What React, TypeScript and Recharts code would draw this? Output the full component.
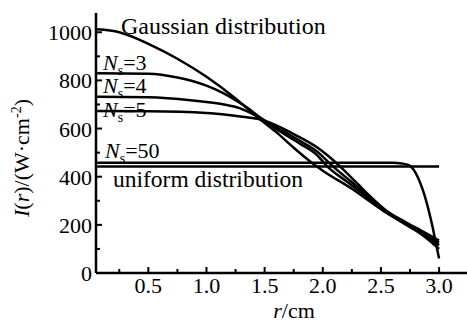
import React from 'react';
import { LineChart, Line, XAxis, YAxis } from 'recharts';

const gaussR = [0.06, 0.25, 0.5, 0.75, 1.0, 1.25, 1.43, 1.6, 1.75, 1.9, 2.0, 2.25, 2.5, 2.7, 2.85, 3.0];
const gaussI = [1012, 1000, 952, 890, 815, 725, 650, 585, 520, 460, 425, 350, 265, 205, 160, 100];

const ns3R = [0.06, 0.5, 0.75, 1.0, 1.14, 1.25, 1.37, 1.45, 1.6, 1.8, 1.95, 2.04, 2.2, 2.4, 2.55, 2.7, 2.85, 3.0];
const ns3I = [830, 828, 812, 778, 748, 718, 680, 650, 598, 538, 490, 442, 382, 308, 250, 208, 165, 115];

const ns4R = [0.06, 0.5, 0.86, 1.0, 1.15, 1.29, 1.45, 1.6, 1.8, 1.95, 2.09, 2.25, 2.4, 2.55, 2.7, 2.85, 3.0];
const ns4I = [732, 730, 718, 710, 700, 684, 647, 606, 550, 505, 442, 377, 315, 254, 211, 168, 125];

const ns5R = [0.06, 0.5, 1.0, 1.29, 1.5, 1.75, 1.95, 2.05, 2.15, 2.3, 2.4, 2.55, 2.7, 2.85, 3.0];
const ns5I = [673, 672, 665, 650, 633, 577, 522, 485, 442, 370, 322, 258, 215, 175, 135];

const ns50R = [0.06, 2.6, 2.68, 2.74, 2.78, 2.82, 2.86, 2.9, 2.94, 2.97, 3.0];
const ns50I = [458, 458, 455, 448, 430, 395, 345, 280, 200, 130, 60];

const uniR = [0.06, 3.0];
const uniI = [442, 442];

const xMajor = [0.5, 1.0, 1.5, 2.0, 2.5, 3.0];
const xMinor = [0.25, 0.75, 1.25, 1.75, 2.25, 2.75];
const yMajor = [0, 200, 400, 600, 800, 1000];
const yMinor = [100, 300, 500, 700, 900];

const toData = (rs: number[], vs: number[]) => rs.map((r, i) => ({ r, v: vs[i] }));

const series = [
  toData(gaussR, gaussI),
  toData(ns3R, ns3I),
  toData(ns4R, ns4I),
  toData(ns5R, ns5I),
  toData(ns50R, ns50I),
  toData(uniR, uniI),
];

const FONT = "'Liberation Serif', 'Times New Roman', monospace";
const W = 467;
const H = 322;
const FS = 22;

const XTick = (props: any) => {
  const { x, y, payload } = props;
  const v = payload.value;
  const major = xMajor.some((m) => Math.abs(m - v) < 1e-6);
  return (
    <g>
      <line x1={x} y1={y} x2={x} y2={y - (major ? 6 : 4)} stroke="#000" strokeWidth={2} />
      {major && (
        <text x={x} y={y + 20} textAnchor="middle" style={{ fontFamily: FONT, fontSize: FS }} fill="#000">
          {v.toFixed(1)}
        </text>
      )}
    </g>
  );
};

const YTick = (props: any) => {
  const { x, y, payload } = props;
  const v = payload.value;
  const major = yMajor.includes(v);
  return (
    <g>
      <line x1={x} y1={y} x2={x + (major ? 6 : 4)} y2={y} stroke="#000" strokeWidth={2} />
      {major && (
        <text x={x - 4} y={y + 8} textAnchor="end" style={{ fontFamily: FONT, fontSize: FS }} fill="#000">
          {v}
        </text>
      )}
    </g>
  );
};

const Ns = ({ x, y, n }: { x: number; y: number; n: string }) => (
  <text x={x} y={y} style={{ fontFamily: FONT, fontSize: FS }} fill="#000">
    <tspan fontStyle="italic">N</tspan>
    <tspan style={{ fontSize: 14 }} dy={5}>s</tspan>
    <tspan dy={-5}>={n}</tspan>
  </text>
);

export default function App() {
  return (
    <div style={{ position: 'absolute', left: 0, top: 0, width: W, height: H, background: '#fff' }}>
      <LineChart width={W} height={H} margin={{ top: 13, right: 0, bottom: 0, left: 0 }}>
        <XAxis
          type="number"
          dataKey="r"
          domain={[0.05, 3.24]}
          allowDataOverflow
          ticks={[...xMinor, ...xMajor].sort((a, b) => a - b)}
          interval={0}
          tickSize={0}
          tickMargin={0}
          tickLine={false}
          height={49}
          axisLine={{ stroke: '#000', strokeWidth: 2.5 }}
          tick={<XTick />}
        />
        <YAxis
          type="number"
          domain={[0, 1080]}
          allowDataOverflow
          ticks={[...yMinor, ...yMajor].sort((a, b) => a - b)}
          interval={0}
          tickSize={0}
          tickMargin={0}
          tickLine={false}
          width={96}
          axisLine={{ stroke: '#000', strokeWidth: 2.5 }}
          tick={<YTick />}
        />
        {series.map((d, i) => (
          <Line
            key={i}
            data={d}
            dataKey="v"
            type="monotone"
            stroke="#000"
            strokeWidth={2.5}
            dot={false}
            isAnimationActive={false}
          />
        ))}
      </LineChart>
      <svg width={W} height={H} style={{ position: 'absolute', left: 0, top: 0, pointerEvents: 'none' }}>
        <text x={121} y={34} style={{ fontFamily: FONT, fontSize: 24 }} fill="#000">Gaussian distribution</text>
        <Ns x={103} y={70} n="3" />
        <Ns x={103} y={93} n="4" />
        <Ns x={103} y={117} n="5" />
        <Ns x={105} y={158} n="50" />
        <text x={113} y={187} style={{ fontFamily: FONT, fontSize: 23.5 }} fill="#000">uniform distribution</text>
        <text
          transform="translate(29,158) rotate(-90)"
          textAnchor="middle"
          style={{ fontFamily: FONT, fontSize: FS }}
          fill="#000"
        >
          <tspan fontStyle="italic">I</tspan>(<tspan fontStyle="italic">r</tspan>)/(W·cm
          <tspan style={{ fontSize: 14 }} dy={-8}>-2</tspan>
          <tspan dy={8}>)</tspan>
        </text>
        <text x={294} y={318} textAnchor="middle" style={{ fontFamily: FONT, fontSize: FS }} fill="#000">
          <tspan fontStyle="italic">r</tspan>/cm
        </text>
      </svg>
    </div>
  );
}
